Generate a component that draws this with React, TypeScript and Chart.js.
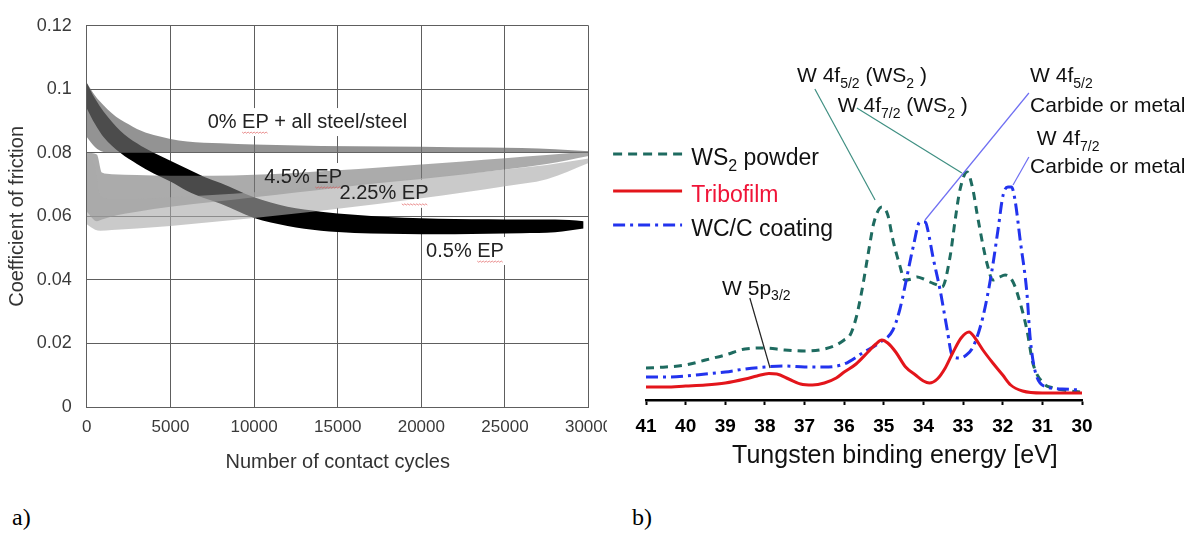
import React, { useEffect, useRef } from 'react';
import { Chart, registerables } from 'chart.js';

Chart.register(...registerables);

const SANS = '"Liberation Sans", Arial, Helvetica, sans-serif';

// ---------- (a) friction coefficient envelopes vs. number of contact cycles ----------
const cycleTicks = [0, 5000, 10000, 15000, 20000, 25000, 30000];
const frictionTicks = [0, 0.02, 0.04, 0.06, 0.08, 0.1, 0.12];

const ep0Cycles = [0, 500, 1000, 1500, 2000, 2500, 3000, 4000, 5000, 6000, 8000, 10000, 14000, 18000, 22000, 26000, 28000, 30000];
const ep0Upper = [0.102, 0.098, 0.095, 0.0925, 0.0905, 0.089, 0.0875, 0.0856, 0.0844, 0.0836, 0.083, 0.0826, 0.0822, 0.082, 0.0818, 0.0815, 0.0811, 0.0805];
const ep0Lower = [0.085, 0.0818, 0.0803, 0.08, 0.08, 0.08, 0.08, 0.08, 0.08, 0.08, 0.08, 0.08, 0.08, 0.08, 0.08, 0.08, 0.08, 0.08];

const ep05Cycles = [0, 500, 1000, 2000, 3000, 4000, 5000, 6000, 7000, 8000, 10000, 12000, 14000, 16000, 18000, 20000, 22000, 24000, 26000, 28000, 29700];
const ep05Upper = [0.102, 0.097, 0.093, 0.087, 0.083, 0.08, 0.0775, 0.075, 0.0725, 0.0705, 0.066, 0.063, 0.0615, 0.0605, 0.0598, 0.0594, 0.0592, 0.0591, 0.059, 0.059, 0.0585];
const ep05Lower = [0.094, 0.089, 0.085, 0.08, 0.0765, 0.0735, 0.071, 0.068, 0.0658, 0.064, 0.0595, 0.057, 0.0555, 0.0548, 0.0545, 0.0544, 0.0544, 0.0545, 0.0547, 0.055, 0.0562];

const ep45Cycles = [0, 600, 900, 1500, 3000, 5000, 7500, 10000, 12500, 15000, 17500, 20000, 22500, 25000, 27500, 30000];
const ep45Upper = [0.08, 0.0795, 0.0738, 0.0733, 0.073, 0.0728, 0.0728, 0.0731, 0.0737, 0.0745, 0.0754, 0.0763, 0.0773, 0.0783, 0.0793, 0.0804];
const ep45Lower = [0.0615, 0.0585, 0.059, 0.06, 0.0615, 0.063, 0.0645, 0.066, 0.0675, 0.069, 0.0705, 0.0718, 0.0732, 0.0748, 0.0765, 0.079];

const ep225Cycles = [0, 500, 800, 1500, 3000, 5000, 7500, 10000, 12500, 15000, 17500, 20000, 22500, 25000, 27500, 30000];
const ep225Upper = [0.079, 0.0755, 0.0665, 0.0655, 0.0655, 0.066, 0.0667, 0.0676, 0.0686, 0.0697, 0.0709, 0.0721, 0.0734, 0.0748, 0.0762, 0.0782];
const ep225Lower = [0.0575, 0.0558, 0.0555, 0.0557, 0.0562, 0.057, 0.0582, 0.0595, 0.0609, 0.0624, 0.064, 0.0657, 0.0675, 0.0695, 0.0717, 0.0768];

const frictionLabels = [
  { text: '0% EP + all steel/steel', cycles: 13190, cof: 0.0897 },
  { text: '4.5% EP', cycles: 12930, cof: 0.0724 },
  { text: '2.25% EP', cycles: 17770, cof: 0.0671 },
  { text: '0.5% EP', cycles: 22610, cof: 0.0491 },
];

// ---------- (b) W XPS spectra (intensity in arbitrary units) ----------
const energyTicks = [30, 31, 32, 33, 34, 35, 36, 37, 38, 39, 40, 41];

const ws2Energy = [41, 40.5, 40, 39.5, 39, 38.5, 38, 37.5, 37, 36.5, 36.2, 36, 35.85, 35.7, 35.55, 35.4, 35.25, 35.05, 34.9, 34.77, 34.6, 34.47, 34.3, 34.16, 34.0, 33.84, 33.65, 33.53, 33.33, 33.2, 33.08, 32.9, 32.75, 32.65, 32.5, 32.4, 32.25, 32.1, 31.94, 31.74, 31.56, 31.39, 31.24, 30.98, 30.73, 30.4, 30.05];
const ws2Intensity = [12.8, 13.2, 14, 16, 18, 20.4, 20.8, 20, 19.6, 20.4, 22, 24, 26, 32.8, 44, 58, 71, 77.2, 74, 64, 54, 48, 48.4, 49.2, 48.4, 47.2, 46, 45.2, 57.2, 72, 84, 91.2, 84, 74.8, 62, 54.8, 48, 49, 50, 47.2, 38.8, 28, 14.8, 6.8, 4.8, 3.8, 3.2];

const tribofilmEnergy = [41, 40.5, 40, 39.5, 39, 38.5, 38.2, 37.9, 37.7, 37.4, 37.1, 36.8, 36.5, 36.2, 36, 35.7, 35.4, 35.2, 35.05, 34.9, 34.7, 34.45, 34.2, 34.0, 33.85, 33.65, 33.45, 33.25, 33.05, 32.85, 32.7, 32.5, 32.25, 32.0, 31.8, 31.5, 31.0, 30.5, 30];
const tribofilmIntensity = [5.2, 5.2, 5.6, 6.0, 6.8, 8.4, 9.6, 10.6, 10.4, 8.4, 6.4, 6.0, 6.8, 8.8, 11.2, 14.4, 19.2, 22.4, 24, 22.8, 19.2, 13.2, 10, 7.6, 6.8, 8.4, 12.8, 19.2, 24.8, 27.2, 24.8, 20, 14.8, 10, 6, 3.6, 2.8, 2.8, 2.8];

const wccEnergy = [41, 40.5, 40, 39.5, 39, 38.5, 38, 37.5, 37, 36.5, 36, 35.5, 35.1, 34.77, 34.6, 34.47, 34.26, 34.09, 33.95, 33.89, 33.76, 33.58, 33.4, 33.28, 33.1, 32.95, 32.75, 32.5, 32.27, 32.12, 31.99, 31.87, 31.78, 31.69, 31.56, 31.39, 31.31, 31.19, 30.89, 30.5, 30.05];
const wccIntensity = [9.2, 9.2, 9.6, 10.4, 11.2, 12.4, 13.2, 13.6, 13.2, 13.2, 14.4, 19.2, 23, 28, 36, 45.2, 61.2, 71.2, 71.2, 68, 57.2, 44, 28, 18, 16.8, 17.6, 21.2, 33.2, 52, 68, 82, 85.2, 85.2, 80, 64, 42.8, 25.2, 12, 5.2, 4.4, 4];

const GREEN = '#1e6b60';
const RED = '#e3151b';
const BLUE = '#2233ee';
const LEADER_TEAL = '#3f8f82';
const LEADER_BLUE = '#6f6ff2';
const GRID = '#5e5e5e';

type Part = { t: string; sub?: boolean };

// peak assignments: text (left, baseline) and leader line, in (eV, intensity)
const peakNotes: { parts: Part[]; at: [number, number] }[] = [
  { parts: [{ t: 'W 4f' }, { t: '5/2', sub: true }, { t: ' (WS' }, { t: '2', sub: true }, { t: ' )' }], at: [37.19, 127.2] },
  { parts: [{ t: 'W 4f' }, { t: '7/2', sub: true }, { t: ' (WS' }, { t: '2', sub: true }, { t: ' )' }], at: [36.16, 115.2] },
  { parts: [{ t: 'W 4f' }, { t: '5/2', sub: true }], at: [31.31, 127.2] },
  { parts: [{ t: 'Carbide or metal' }], at: [31.31, 115.2] },
  { parts: [{ t: 'W 4f' }, { t: '7/2', sub: true }], at: [31.14, 102] },
  { parts: [{ t: 'Carbide or metal' }], at: [31.31, 90.8] },
  { parts: [{ t: 'W 5p' }, { t: '3/2', sub: true }], at: [39.08, 42.2] },
];

const leaders: { from: [number, number]; to: [number, number]; color: string }[] = [
  { from: [36.74, 124.4], to: [35.22, 80], color: LEADER_TEAL },
  { from: [35.68, 116.8], to: [33.03, 90.8], color: LEADER_TEAL },
  { from: [31.34, 122.8], to: [33.96, 72], color: LEADER_BLUE },
  { from: [31.34, 97.2], to: [31.74, 86], color: LEADER_BLUE },
  { from: [38.38, 40.8], to: [37.87, 12.8], color: '#222' },
];

const legendItems: { parts: Part[]; color: string; textColor: string; dash: number[] }[] = [
  { parts: [{ t: 'WS' }, { t: '2', sub: true }, { t: ' powder' }], color: GREEN, textColor: '#111', dash: [9, 6] },
  { parts: [{ t: 'Tribofilm' }], color: RED, textColor: '#f01438', dash: [] },
  { parts: [{ t: 'WC/C coating' }], color: BLUE, textColor: '#111', dash: [12, 5, 3, 5] },
];

function drawRich(ctx: CanvasRenderingContext2D, x: number, y: number, parts: Part[], size: number, color: string) {
  let cx = x;
  ctx.fillStyle = color;
  ctx.textAlign = 'left';
  ctx.textBaseline = 'alphabetic';
  for (const p of parts) {
    const fs = p.sub ? Math.round(size * 0.68) : size;
    ctx.font = `${fs}px ${SANS}`;
    ctx.fillText(p.t, cx, y + (p.sub ? size * 0.27 : 0));
    cx += ctx.measureText(p.t).width;
  }
}

function band(xs: number[], lower: number[], upper: number[], color: string, label: string) {
  const common = {
    pointRadius: 0,
    borderWidth: 0,
    borderColor: 'rgba(0,0,0,0)',
    cubicInterpolationMode: 'monotone' as const,
  };
  return [
    { ...common, label: label + ' (min)', data: xs.map((x, i) => ({ x, y: lower[i] })), fill: false },
    { ...common, label, data: xs.map((x, i) => ({ x, y: upper[i] })), fill: '-1', backgroundColor: color },
  ];
}

const LABEL_FONT = `20px ${SANS}`;

const frictionLabelPlugin = {
  id: 'frictionLabels',
  beforeDatasetsDraw(chart: any) {
    const { ctx, scales } = chart;
    ctx.save();
    ctx.font = LABEL_FONT;
    ctx.fillStyle = '#fff';
    for (const l of frictionLabels) {
      const w = ctx.measureText(l.text).width;
      const cx = scales.x.getPixelForValue(l.cycles);
      const cy = scales.y.getPixelForValue(l.cof);
      ctx.fillRect(cx - w / 2 - 4, cy - 14, w + 8, 28);
    }
    ctx.restore();
  },
  afterDatasetsDraw(chart: any) {
    const { ctx, scales } = chart;
    ctx.save();
    ctx.font = LABEL_FONT;
    ctx.textAlign = 'left';
    ctx.textBaseline = 'middle';
    for (const l of frictionLabels) {
      const w = ctx.measureText(l.text).width;
      const cx = scales.x.getPixelForValue(l.cycles);
      const cy = scales.y.getPixelForValue(l.cof);
      const x0 = cx - w / 2;
      ctx.fillStyle = '#222';
      ctx.fillText(l.text, x0, cy);
      // red spell-check squiggle under "EP"
      const idx = l.text.indexOf('EP');
      const sx = x0 + ctx.measureText(l.text.slice(0, idx)).width;
      const sw = ctx.measureText('EP').width;
      ctx.strokeStyle = 'rgba(220,70,70,0.75)';
      ctx.lineWidth = 0.8;
      ctx.beginPath();
      for (let k = 0; k <= sw; k += 1.5) {
        const yy = cy + 10 + (Math.round(k / 1.5) % 2 === 0 ? 0 : 1.2);
        if (k === 0) ctx.moveTo(sx + k, yy);
        else ctx.lineTo(sx + k, yy);
      }
      ctx.stroke();
    }
    ctx.restore();
  },
};

const xpsDecorPlugin = {
  id: 'xpsDecor',
  afterDatasetsDraw(chart: any) {
    const { ctx, scales, chartArea } = chart;
    const px = (e: number) => scales.x.getPixelForValue(e);
    const py = (v: number) => scales.y.getPixelForValue(v);
    ctx.save();
    // leader lines from assignments to peaks
    ctx.lineWidth = 1.2;
    ctx.setLineDash([]);
    for (const l of leaders) {
      ctx.strokeStyle = l.color;
      ctx.beginPath();
      ctx.moveTo(px(l.from[0]), py(l.from[1]));
      ctx.lineTo(px(l.to[0]), py(l.to[1]));
      ctx.stroke();
    }
    for (const n of peakNotes) {
      drawRich(ctx, px(n.at[0]), py(n.at[1]), n.parts, 21, '#111');
    }
    // legend
    const legendTop = [98.4, 83.6, 70];
    legendItems.forEach((item, i) => {
      const ly = py(legendTop[i]);
      ctx.strokeStyle = item.color;
      ctx.lineWidth = 3;
      ctx.setLineDash(item.dash);
      ctx.beginPath();
      ctx.moveTo(px(41.83), ly);
      ctx.lineTo(px(40.09), ly);
      ctx.stroke();
      ctx.setLineDash([]);
      drawRich(ctx, px(39.86), ly + 11, item.parts, 23, item.textColor);
    });
    // axis title
    ctx.font = `25px ${SANS}`;
    ctx.fillStyle = '#111';
    ctx.textAlign = 'center';
    ctx.textBaseline = 'alphabetic';
    ctx.fillText('Tungsten binding energy [eV]', px(34.72), chartArea.bottom + 63);
    ctx.restore();
  },
};

export default function App() {
  const leftRef = useRef<HTMLCanvasElement>(null);
  const rightRef = useRef<HTMLCanvasElement>(null);

  useEffect(() => {
    const tickFont = { family: SANS, size: 17 };
    const left = new Chart(leftRef.current!, {
      type: 'line',
      data: {
        datasets: [
          ...band(ep225Cycles, ep225Lower, ep225Upper, 'rgba(170,170,170,0.62)', '2.25% EP'),
          ...band(ep45Cycles, ep45Lower, ep45Upper, 'rgba(120,120,120,0.62)', '4.5% EP'),
          ...band(ep0Cycles, ep0Lower, ep0Upper, 'rgba(105,105,105,0.72)', '0% EP + all steel/steel'),
          ...band(ep05Cycles, ep05Lower, ep05Upper, '#000', '0.5% EP'),
        ] as any,
      },
      options: {
        animation: false,
        responsive: false,
        maintainAspectRatio: false,
        layout: { padding: { left: 0, top: 20.6, right: 640 - 588.6, bottom: 0 } },
        plugins: { legend: { display: false }, tooltip: { enabled: false } },
        scales: {
          x: {
            type: 'linear',
            min: 0,
            max: 30000,
            afterBuildTicks: (s: any) => { s.ticks = cycleTicks.map((v) => ({ value: v })); },
            afterFit: (s: any) => { s.height = 73; },
            ticks: { font: tickFont, color: '#3a3a3a', padding: 10, maxRotation: 0, autoSkip: false, callback: (v: any) => String(v) },
            grid: { color: GRID, lineWidth: 1, drawTicks: false },
            border: { color: GRID },
            title: { display: true, text: 'Number of contact cycles', color: '#333', font: { family: SANS, size: 20 }, padding: { top: 0, bottom: 6 } },
          },
          y: {
            type: 'linear',
            min: 0,
            max: 0.12,
            afterBuildTicks: (s: any) => { s.ticks = frictionTicks.map((v) => ({ value: v })); },
            afterFit: (s: any) => { s.width = 86.8; },
            ticks: { font: { family: SANS, size: 18 }, color: '#3a3a3a', padding: 15, callback: (v: any) => String(Math.round(v * 100) / 100) },
            grid: { color: GRID, lineWidth: 1, drawTicks: false },
            border: { color: GRID },
            title: { display: true, text: 'Coefficient of friction', color: '#333', font: { family: SANS, size: 20 }, padding: { top: 5, bottom: 0 } },
          },
        },
      } as any,
      plugins: [frictionLabelPlugin],
    });

    const line = (label: string, xs: number[], ys: number[], color: string, dash: number[]) => ({
      label,
      data: xs.map((x, i) => ({ x, y: ys[i] })),
      borderColor: color,
      borderWidth: 3,
      borderDash: dash,
      pointRadius: 0,
      fill: false,
      cubicInterpolationMode: 'monotone' as const,
    });

    const right = new Chart(rightRef.current!, {
      type: 'line',
      data: {
        datasets: [
          line('Tribofilm', tribofilmEnergy, tribofilmIntensity, RED, []),
          line('WC/C coating', wccEnergy, wccIntensity, BLUE, [12, 5, 3, 5]),
          line('WS2 powder', ws2Energy, ws2Intensity, GREEN, [8, 6]),
        ],
      },
      options: {
        animation: false,
        responsive: false,
        maintainAspectRatio: false,
        layout: { padding: { left: 39, top: 100, right: 110, bottom: 0 } },
        plugins: { legend: { display: false }, tooltip: { enabled: false } },
        scales: {
          x: {
            type: 'linear',
            reverse: true,
            min: 30,
            max: 41,
            afterBuildTicks: (s: any) => { s.ticks = energyTicks.map((v) => ({ value: v })); },
            afterFit: (s: any) => { s.height = 80; },
            ticks: { font: { family: SANS, size: 19, weight: 'bold' }, color: '#000', padding: 10, maxRotation: 0, autoSkip: false },
            grid: { drawOnChartArea: false, drawTicks: true, tickLength: 5, tickWidth: 2, tickColor: '#000' },
            border: { display: true, color: '#000', width: 2.5 },
          },
          y: { type: 'linear', min: 0, max: 120, display: false },
        },
      } as any,
      plugins: [xpsDecorPlugin],
    });

    return () => {
      left.destroy();
      right.destroy();
    };
  }, []);

  const panelLetter: React.CSSProperties = {
    position: 'absolute',
    top: 505,
    fontFamily: '"Liberation Serif", "Times New Roman", serif',
    fontSize: 24,
    lineHeight: '24px',
    color: '#000',
  };

  return (
    <div style={{ position: 'absolute', left: 0, top: 0, width: 1192, height: 534, background: '#fff', overflow: 'hidden' }}>
      <div style={{ position: 'absolute', left: 0, top: 0, width: 607, height: 480, overflow: 'hidden' }}>
        <canvas ref={leftRef} width={640} height={480} style={{ width: 640, height: 480, display: 'block' }} />
      </div>
      <div style={{ position: 'absolute', left: 607, top: 0, width: 585, height: 480 }}>
        <canvas ref={rightRef} width={585} height={480} style={{ width: 585, height: 480, display: 'block' }} />
      </div>
      <div style={{ ...panelLetter, left: 12 }}>a)</div>
      <div style={{ ...panelLetter, left: 632 }}>b)</div>
    </div>
  );
}
